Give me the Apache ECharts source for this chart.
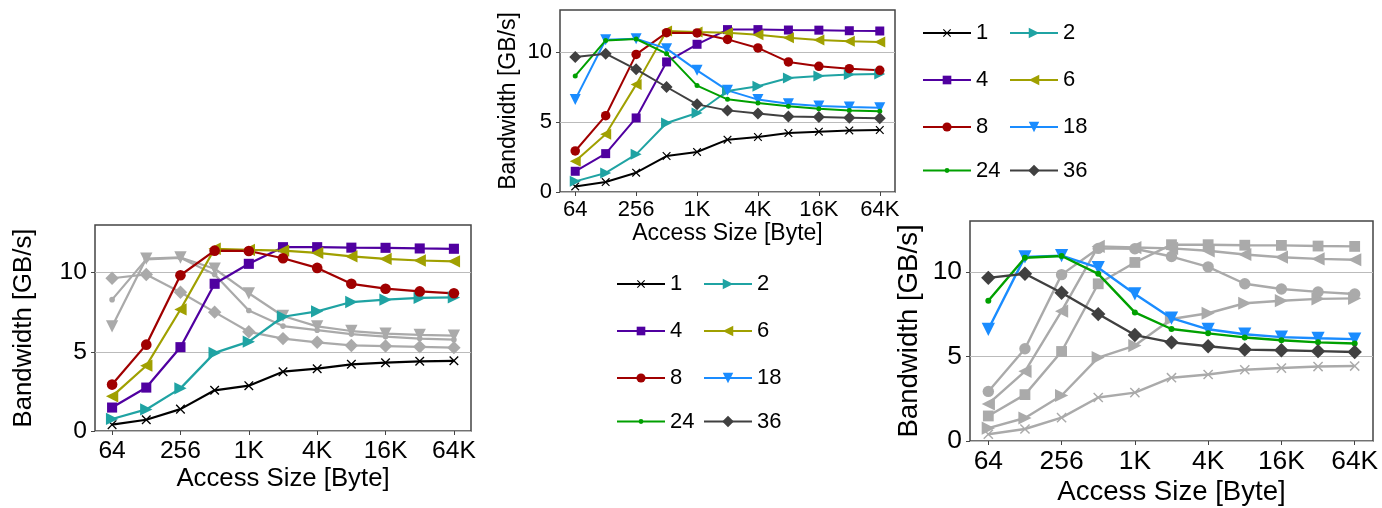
<!DOCTYPE html>
<html>
<head>
<meta charset="utf-8">
<script src="https://cdn.jsdelivr.net/npm/echarts@6/dist/echarts.min.js"></script>
<style>
html,body{margin:0;padding:0;background:#fff}
#chart{width:1382px;height:508px}
</style>
</head>
<body>
<div id="chart"></div>
<script>
// x 轴: 访问大小
const sizes = ['64', '128', '256', '512', '1K', '2K', '4K', '8K', '16K', '32K', '64K'];
// 线程数
const threads = ['1', '2', '4', '6', '8', '18', '24', '36'];
// 各线程数的带宽 (GB/s)
const bw1  = [0.40, 0.71, 1.38, 2.57, 2.86, 3.74, 3.93, 4.21, 4.31, 4.40, 4.43];
const bw2  = [0.76, 1.36, 2.69, 4.93, 5.64, 7.21, 7.55, 8.14, 8.29, 8.40, 8.43];
const bw4  = [1.48, 2.74, 5.29, 9.29, 10.55, 11.60, 11.60, 11.57, 11.56, 11.52, 11.50];
const bw6  = [2.19, 4.12, 7.67, 11.50, 11.43, 11.38, 11.24, 11.02, 10.86, 10.76, 10.71];
const bw8  = [2.93, 5.45, 9.83, 11.38, 11.36, 10.90, 10.29, 9.29, 8.98, 8.81, 8.69];
const bw18 = [6.60, 10.88, 10.95, 10.24, 8.69, 7.26, 6.60, 6.31, 6.14, 6.07, 6.02];
const bw24 = [8.29, 10.83, 10.93, 9.88, 7.60, 6.62, 6.36, 6.12, 5.95, 5.83, 5.76];
const bw36 = [9.64, 9.88, 8.76, 7.50, 6.26, 5.83, 5.60, 5.40, 5.36, 5.31, 5.26];
const yTicks = [0, 5, 10];

const values = [bw1, bw2, bw4, bw6, bw8, bw18, bw24, bw36];
const colors = ['#000000', '#1fa3a3', '#5000a0', '#a0a000', '#a00000', '#1a8cff', '#00a000', '#404040'];
const crossPath = 'path://M0,1L1,0L5,4L9,0L10,1L6,5L10,9L9,10L5,6L1,10L0,9L4,5Z';
const symbols = [crossPath, 'path://M0,0L10,5L0,10Z', 'rect', 'path://M10,0L0,5L10,10Z',
                 'circle', 'path://M0,0L10,0L5,10Z', 'circle', 'diamond'];
const symSize = [8.5, 11, 9, 11, 9.5, 11, 5, 12];
const FONT = 'Liberation Sans';
const GRAY = '#aaaaaa';

// 三个子图: 上方全部高亮, 左下 1-8, 右下 18-36
const panels = [
    {left: 560, top: 10, width: 335, height: 182, k: 1, hi: threads, yGap: 40, xGap: 30, lm: 7},
    {left: 95, top: 225, width: 376, height: 206, k: 1.12, hi: ['1', '2', '4', '6', '8'], yGap: 58, xGap: 35, lm: 8},
    {left: 970, top: 221, width: 403, height: 220, k: 1.2, hi: ['18', '24', '36'], yGap: 47, xGap: 37, lm: 8}
];

const grids = [], xAxes = [], yAxes = [], seriesList = [];
panels.forEach((p, pi) => {
    grids.push({left: p.left, top: p.top, width: p.width, height: p.height,
        show: true, borderColor: '#444', borderWidth: 1.5, containLabel: false});
    xAxes.push({
        gridIndex: pi, type: 'category', data: sizes, boundaryGap: true,
        name: 'Access Size [Byte]', nameLocation: 'middle', nameGap: p.xGap,
        nameTextStyle: {fontSize: 23 * p.k, color: '#000', fontFamily: FONT},
        axisLine: {show: false},
        axisTick: {show: true, interval: 1, alignWithLabel: true, length: 4, lineStyle: {color: '#444'}},
        axisLabel: {interval: 1, fontSize: 22 * p.k, color: '#000', fontFamily: FONT, margin: p.lm},
        splitLine: {show: false}
    });
    yAxes.push({
        gridIndex: pi, type: 'value', min: 0, max: 13, interval: 5,
        name: 'Bandwidth [GB/s]', nameLocation: 'middle', nameRotate: 90, nameGap: p.yGap,
        nameTextStyle: {fontSize: 23 * p.k, color: '#000', fontFamily: FONT},
        axisLine: {show: false},
        axisTick: {show: true, length: 4, customValues: yTicks, lineStyle: {color: '#444'}},
        axisLabel: {customValues: yTicks, fontSize: 22 * p.k, color: '#000', fontFamily: FONT, margin: 8},
        splitLine: {show: true, lineStyle: {color: '#bbbbbb', width: 1}}
    });
    threads.forEach((t, i) => {
        const on = p.hi.indexOf(t) >= 0;
        const c = on ? colors[i] : GRAY;
        seriesList.push({
            name: t, type: 'line', xAxisIndex: pi, yAxisIndex: pi, data: values[i],
            symbol: symbols[i], symbolSize: symSize[i] * p.k, showAllSymbol: true,
            lineStyle: {color: c, width: 2 * p.k}, itemStyle: {color: c},
            z: on ? 3 : 2, emphasis: {disabled: true}, animation: false
        });
    });
});

// 图例: 两处, 每处 2 列 x 4 行
const legendBoxes = [{x: 922, y: 33}, {x: 616, y: 284}];
const rowOff = [0, 47, 94, 137.5];
const colOff = [0, 87];
const legends = [];
legendBoxes.forEach(b => {
    threads.forEach((t, i) => {
        const ih = Math.max(symSize[i] * 1.2, 6);
        legends.push({
            data: [t], selectedMode: false, padding: 0, orient: 'horizontal',
            left: b.x + colOff[i % 2], top: b.y + rowOff[Math.floor(i / 2)] - 11,
            itemWidth: 48, itemHeight: ih,
            textStyle: {fontSize: 22, color: '#000', fontFamily: FONT, lineHeight: 22}
        });
    });
});

const chart = echarts.init(document.getElementById('chart'));
chart.setOption({
    animation: false,
    backgroundColor: '#fff',
    grid: grids,
    xAxis: xAxes,
    yAxis: yAxes,
    legend: legends,
    series: seriesList
});
</script>
</body>
</html>
